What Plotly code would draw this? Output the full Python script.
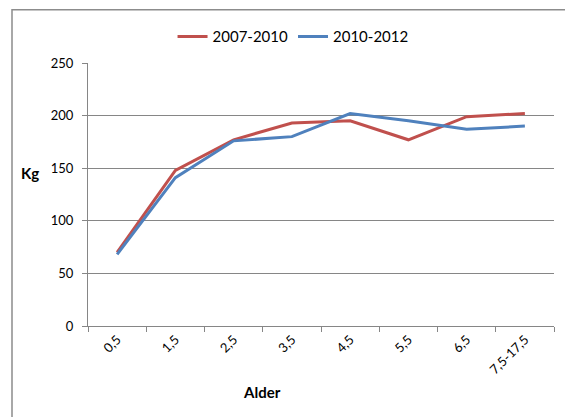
import plotly.graph_objects as go

# Age groups (x categories)
categories = ["0,5", "1,5", "2,5", "3,5", "4,5", "5,5", "6,5", "7,5-17,5"]

# Kg per age group
kg_2007_2010 = [70, 148, 177, 193, 195, 177, 199, 202]
kg_2010_2012 = [68, 141, 176, 180, 202, 195, 187, 190]

fig = go.Figure()
fig.add_trace(go.Scatter(x=categories, y=kg_2007_2010, mode="lines", name="2007-2010",
                         line=dict(color="#C0504D", width=3)))
fig.add_trace(go.Scatter(x=categories, y=kg_2010_2012, mode="lines", name="2010-2012",
                         line=dict(color="#4F81BD", width=3)))

font_family = "Lato, Open Sans, sans-serif"

# the page body adds an 8px margin, so the figure is 8px smaller on each lead side
fig.update_layout(
    width=565, height=409,
    margin=dict(l=80, r=19, t=55, b=91, autoexpand=False),
    paper_bgcolor="white", plot_bgcolor="white",
    font=dict(family=font_family, size=13, color="#000000"),
    showlegend=True,
    legend=dict(orientation="h", x=0.44, xanchor="center", y=1.10, yanchor="middle",
                font=dict(size=15), bgcolor="rgba(0,0,0,0)"),
    xaxis=dict(type="category", tickangle=-45, showgrid=False, automargin=False,
               showline=True, linecolor="#868686", linewidth=1,
               ticks="outside", tickson="boundaries", ticklen=5, tickcolor="#868686",
               range=[-0.5, 7.5], tickfont=dict(size=13)),
    yaxis=dict(range=[0, 250], dtick=50, showgrid=True, gridcolor="#868686", gridwidth=1,
               automargin=False,
               showline=True, linecolor="#868686", linewidth=1, zeroline=False,
               ticks="outside", ticklen=5, tickcolor="#868686",
               ticklabelstandoff=6, tickfont=dict(size=13)),
    annotations=[
        dict(text="<b>Kg</b>", xref="paper", yref="paper",
             x=(30 - 88) / 466, y=(325.7 - 173) / 263,
             showarrow=False, font=dict(size=15), xanchor="center", yanchor="middle"),
        dict(text="<b>Alder</b>", xref="paper", yref="paper",
             x=(262 - 88) / 466, y=(325.7 - 392) / 263,
             showarrow=False, font=dict(size=15), xanchor="center", yanchor="middle"),
    ],
    shapes=[
        dict(type="rect", xref="paper", yref="paper",
             x0=(12 - 88) / 466, x1=1.2, y0=-0.6, y1=(325.7 - 9.5) / 263,
             line=dict(color="#8C8C8C", width=1.5), fillcolor="rgba(0,0,0,0)", layer="below"),
    ],
)

fig.write_html("out.html")
